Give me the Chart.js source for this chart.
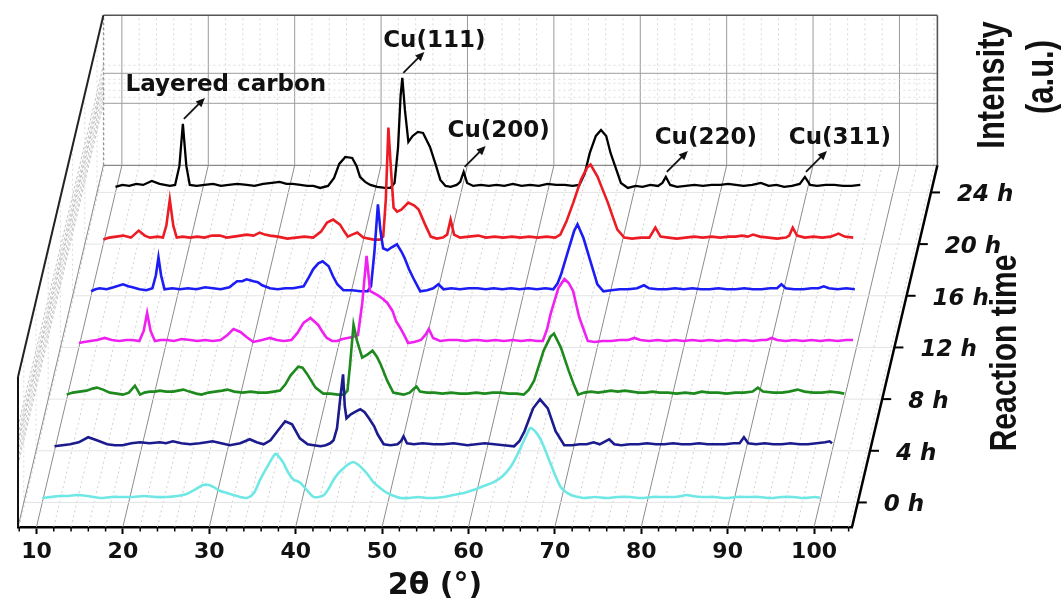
<!DOCTYPE html>
<html><head><meta charset="utf-8">
<script src="https://cdn.jsdelivr.net/npm/chart.js@4.4.1/dist/chart.umd.min.js"></script>
<style>html,body{margin:0;padding:0;background:#fff;}#wrap{width:1064px;height:604px;}</style>
</head><body><div id="wrap"><canvas id="c" width="1064" height="604"></canvas></div>
<script>
// ---------------- data ----------------
const timeLabels = ['0 h','4 h','8 h','12 h','16 h','20 h','24 h'];
const xTickStep = 10;

const xrd0h = [[10,0],[11,1],[12,2],[13,2],[14.1,3],[15.2,2],[16.7,0],[18,1],[19.3,1],[20.5,1],[21.8,2],[23.1,1],[24.4,1],[25.6,2],[26.7,4],[27.6,8],[28.6,13],[29.3,13],[29.8,11],[30.6,7],[31.4,5],[32.1,3],[32.9,1],[33.7,0],[34.5,5],[35.2,18],[36.1,32],[37.0,44],[37.5,40],[37.9,35],[38.5,25],[39.1,18],[39.5,17],[39.9,15],[40.6,8],[41.4,1],[42.0,1],[42.6,3],[43.2,10],[43.7,18],[44.3,25],[44.9,30],[45.5,34],[46.0,36],[46.6,33],[47.2,28],[47.8,22],[48.3,16],[49.1,10],[49.9,5],[50.7,2],[51.5,0],[52.5,0],[53.5,1],[54.4,0],[55.3,0],[56.5,1],[57.6,3],[58.8,5],[59.9,8],[61.1,12],[62.3,16],[63.3,22],[64.2,31],[64.8,40],[65.4,51],[66.0,62],[66.5,70],[67.1,66],[67.7,58],[68.3,46],[68.8,35],[69.4,22],[70.0,11],[70.6,6],[71.2,3],[72.0,1],[72.7,0],[74,1],[75.3,0],[76.6,1],[78,1],[79.3,0],[80.6,1],[81.9,1],[83.2,1],[84.0,2],[84.6,3],[85.2,2],[86.5,1],[87.8,1],[89.1,0],[90.4,1],[91.7,1],[93,1],[94.3,0],[95.6,1],[96.9,1],[98.2,0],[99.5,1],[100,0]];

const xrd4h = [[10,0],[10.9,1],[11.8,2],[12.8,4],[13.9,9],[14.9,6],[16.1,2],[17.0,1],[17.9,1],[18.9,3],[19.9,4],[21.0,3],[22.2,4],[22.9,3],[23.7,5],[24.7,3],[25.7,2],[26.8,3],[27.6,4],[28.3,5],[29.3,3],[30.3,1],[31.5,3],[32.6,7],[33.4,4],[34.2,2],[35.0,6],[35.8,15],[36.7,25],[37.5,22],[38.4,8],[39.3,2],[40.0,1],[40.8,0],[41.4,1],[41.9,3],[42.3,6],[42.7,18],[43.1,50],[43.4,72],[43.6,40],[43.8,28],[44.3,32],[44.9,35],[45.4,37],[45.9,34],[46.4,28],[47.0,20],[47.4,12],[48.1,2],[48.9,1],[49.7,2],[50.1,5],[50.4,10],[50.8,3],[51.6,2],[52.6,3],[53.9,2],[55.0,2],[56.2,3],[57.0,2],[57.8,1],[58.8,2],[59.8,3],[60.9,2],[62.0,1],[63.2,0],[63.8,5],[64.4,15],[65.4,38],[66.2,47],[67.1,38],[68.0,15],[69.0,1],[69.9,1],[70.8,2],[71.6,2],[72.4,4],[73.1,2],[74.2,7],[74.8,2],[75.6,1],[76.6,2],[77.6,2],[78.6,3],[79.6,2],[80.6,2],[81.6,3],[82.6,2],[83.6,2],[84.6,3],[85.6,2],[86.6,2],[87.6,2],[88.6,3],[89.3,3],[89.8,9],[90.3,3],[91.2,2],[92.2,3],[93.2,2],[94.2,2],[95.2,3],[96.2,2],[97.2,2],[98.2,3],[99.2,4],[99.7,5],[100,3]];

const xrd8h = [[10,0],[10.7,2],[11.5,3],[12.3,4],[13.0,6],[13.5,7],[14.2,5],[15.0,2],[15.8,1],[16.5,0],[17.2,2],[17.9,9],[18.5,0],[19.0,2],[19.6,3],[20.2,3],[20.8,4],[21.5,3],[22.3,3],[22.9,4],[23.5,5],[24.2,3],[25.0,1],[25.6,0],[26.4,2],[27.2,3],[28.0,4],[28.6,5],[29.4,3],[30.4,2],[31.3,3],[32.2,2],[33.2,2],[34.0,3],[34.7,4],[35.3,10],[35.9,19],[36.8,28],[37.3,27],[37.8,21],[38.3,14],[38.8,7],[39.7,1],[40.5,1],[41.4,0],[42.1,0],[42.5,4],[42.8,30],[43.2,70],[43.4,62],[43.6,54],[44.2,37],[44.8,40],[45.4,44],[45.9,38],[46.3,31],[47.1,14],[47.8,2],[48.4,1],[49.0,0],[49.7,2],[50.2,6],[50.5,8],[50.9,3],[51.7,2],[52.5,2],[53.5,1],[54.5,2],[55.5,1],[56.4,1],[57.4,2],[58.4,1],[59.3,2],[60.2,2],[61.2,1],[62.1,1],[62.9,0],[63.5,5],[64.1,14],[65.2,44],[66.0,58],[66.4,61],[67.2,47],[68.1,24],[68.7,10],[69.2,0],[69.9,2],[70.7,3],[71.5,2],[72.3,3],[73.0,4],[73.8,3],[74.6,4],[75.4,3],[76.2,2],[77.0,2],[77.8,3],[78.6,2],[79.6,2],[80.6,1],[81.6,2],[82.6,1],[83.5,3],[84.4,2],[85.4,2],[86.4,1],[87.4,2],[88.4,2],[89.4,3],[90.0,7],[90.6,3],[91.8,2],[92.8,2],[93.6,3],[94.6,5],[95.4,3],[96.4,2],[97.4,2],[98.4,3],[99.4,2],[100,1]];

const xrd12h = [[10,0],[10.6,1],[11.3,2],[12.1,3],[13.0,5],[13.8,3],[14.7,2],[15.5,3],[16.2,3],[17.0,2],[17.5,12],[17.9,30],[18.3,12],[18.8,2],[19.5,3],[20.2,3],[21.0,2],[21.9,4],[22.9,3],[23.7,2],[24.6,3],[25.5,2],[26.4,3],[27.2,8],[27.9,14],[28.7,11],[29.4,6],[30.2,1],[31.2,3],[32.1,5],[32.9,3],[33.7,2],[34.6,3],[35.3,10],[36.0,20],[36.8,25],[37.7,18],[38.2,11],[38.7,5],[39.3,2],[39.9,2],[40.5,4],[41.1,5],[41.7,6],[42.3,8],[42.8,40],[43.3,87],[43.5,70],[43.7,52],[44.3,49],[44.7,47],[45.2,44],[45.7,40],[46.3,32],[46.7,22],[47.2,15],[47.7,7],[48.1,0],[48.8,1],[49.6,3],[50.1,8],[50.5,14],[51.0,5],[51.8,2],[52.8,3],[53.8,3],[54.8,2],[55.6,3],[56.2,3],[57.2,2],[58.2,3],[59.2,2],[60.2,3],[61.2,2],[62.2,3],[63.0,2],[63.7,2],[64.2,14],[64.6,29],[65.5,55],[66.2,64],[66.7,60],[67.2,52],[67.9,26],[68.4,14],[68.9,2],[69.7,1],[70.6,2],[71.6,2],[72.6,3],[73.6,3],[74.3,5],[75.0,3],[76.0,2],[77.0,3],[78.0,2],[79.0,3],[80.0,2],[81.0,3],[82.0,2],[83.0,3],[84.0,2],[85.0,3],[86.0,2],[87.0,3],[88.0,2],[89.0,3],[89.6,3],[90.2,5],[90.8,3],[91.8,2],[92.8,3],[93.8,2],[94.8,3],[95.8,2],[96.8,3],[97.8,2],[98.8,3],[99.6,3],[100,5]];

const xrd16h = [[10,0],[10.5,2],[11.0,3],[11.8,2],[12.6,4],[13.7,7],[14.3,5],[14.8,4],[15.6,2],[16.4,1],[17.1,3],[17.5,16],[17.8,34],[18.1,16],[18.5,2],[19.4,3],[20.3,2],[21.2,3],[22.2,2],[23.2,4],[24.1,3],[25.0,2],[26.0,4],[26.9,10],[27.5,10],[28.0,12],[28.8,10],[29.3,9],[29.8,6],[30.7,3],[31.6,2],[32.5,3],[33.4,3],[34.0,4],[34.6,5],[35.2,14],[35.7,22],[36.3,28],[36.8,30],[37.5,25],[38.0,15],[38.5,7],[39.2,1],[40.2,1],[41.2,0],[42.0,0],[42.4,5],[42.8,40],[43.2,87],[43.5,60],[43.8,43],[44.3,41],[44.8,44],[45.4,47],[45.9,40],[46.3,33],[46.8,22],[47.3,13],[48.1,0],[48.9,1],[49.6,3],[50.2,7],[50.8,2],[51.7,3],[52.7,2],[53.7,3],[54.7,3],[55.7,2],[56.6,3],[57.6,2],[58.6,3],[59.6,2],[60.6,3],[61.6,2],[62.6,3],[63.5,2],[64.0,8],[64.4,17],[65.3,43],[65.9,60],[66.3,67],[67.0,53],[67.8,30],[68.6,7],[69.3,0],[70.2,1],[71.2,2],[72.2,2],[73.2,3],[74.0,6],[74.6,3],[75.6,2],[76.6,2],[77.6,3],[78.6,2],[79.6,3],[80.6,2],[81.6,2],[82.6,3],[83.6,2],[84.6,2],[85.6,3],[86.6,2],[87.6,2],[88.6,3],[89.4,3],[89.9,7],[90.4,3],[91.4,2],[92.4,2],[93.4,3],[94.2,3],[94.8,5],[95.4,3],[96.4,2],[97.4,3],[98.4,2],[99.4,2],[100,4]];

const xrd20h = [[10,0],[10.7,2],[11.5,3],[12.3,4],[13.2,2],[14.1,9],[14.8,4],[15.4,2],[16.3,3],[16.9,2],[17.3,14],[17.7,40],[18.1,14],[18.5,2],[19.2,3],[20.0,2],[20.9,3],[21.7,2],[22.6,4],[23.5,4],[24.3,2],[25.1,3],[25.9,4],[26.6,5],[27.4,4],[28.1,7],[28.7,5],[29.3,4],[30.2,3],[31.3,1],[32.3,2],[33.3,3],[34.3,2],[35.2,8],[35.9,17],[36.6,20],[37.4,15],[37.9,8],[38.3,3],[38.8,5],[39.4,7],[40.1,2],[41.3,0],[42.0,0],[42.4,3],[42.7,40],[43.0,112],[43.3,70],[43.6,32],[44.0,28],[44.5,30],[45.3,37],[46.0,34],[46.5,30],[47.2,16],[47.9,3],[48.6,1],[49.3,2],[49.8,5],[50.2,20],[50.6,5],[51.3,2],[52.3,3],[53.4,4],[54.3,2],[55.3,3],[56.3,2],[57.3,3],[58.3,2],[59.3,3],[60.3,2],[61.3,3],[62.3,2],[62.9,5],[63.6,18],[64.4,37],[65.3,60],[66.0,72],[66.4,75],[67.2,63],[67.8,50],[68.4,37],[69.0,22],[69.5,10],[70.3,2],[71.2,1],[72.2,2],[73.2,2],[73.9,12],[74.5,3],[75.4,2],[76.4,1],[77.4,2],[78.4,3],[79.4,2],[80.4,3],[81.4,2],[82.4,3],[83.2,3],[83.9,4],[84.6,3],[85.2,5],[86.0,3],[87.0,2],[88.0,1],[89.0,2],[89.4,4],[89.8,12],[90.3,4],[91.2,2],[92.2,3],[93.2,2],[94.2,3],[95.1,6],[95.8,3],[96.8,2],[97.8,3],[98.8,2],[99.5,3],[100,5]];

const xrd24h = [[10,1],[10.8,3],[11.6,2],[12.4,4],[13.2,3],[14.2,7],[15.1,4],[16.3,2],[16.9,3],[17.4,22],[17.8,64],[18.2,22],[18.6,3],[19.4,2],[20.3,3],[21.3,4],[22.2,2],[23.1,3],[24.1,4],[25.2,3],[26.1,2],[27.1,4],[28.1,5],[29.0,6],[29.8,4],[30.5,4],[31.4,3],[32.2,2],[32.9,2],[33.7,0],[34.6,2],[35.3,10],[35.9,24],[36.6,31],[37.4,30],[37.9,22],[38.3,11],[38.9,6],[39.5,3],[40.3,1],[41.2,0],[41.8,0],[42.3,5],[42.7,40],[43.0,92],[43.2,110],[43.5,78],[43.9,46],[44.4,52],[45.0,56],[45.6,55],[46.4,41],[47.0,25],[47.6,8],[48.2,2],[48.8,1],[49.5,3],[49.9,6],[50.3,16],[50.7,5],[51.4,2],[52.3,3],[53.2,2],[54.1,3],[55.0,2],[56.0,4],[57.0,2],[58.0,3],[59.0,2],[60.0,4],[61.0,3],[62.0,3],[62.9,2],[63.7,3],[64.3,14],[64.9,35],[65.6,52],[66.2,58],[66.8,52],[67.3,35],[67.9,20],[68.5,5],[69.3,0],[70.2,2],[71.0,1],[71.9,3],[72.8,2],[73.3,5],[73.7,11],[74.2,3],[75.0,1],[76.0,2],[77.0,3],[78.0,2],[79.0,3],[80.0,3],[80.9,4],[81.8,3],[82.7,2],[83.7,3],[84.7,5],[85.6,2],[86.5,3],[87.4,1],[88.3,2],[89.2,4],[89.8,11],[90.4,3],[91.2,2],[92.2,3],[93.2,3],[94.2,2],[95.2,2],[96.2,3],[97.2,1],[98.2,3],[99.2,2],[100,0]];

const seriesData = [xrd0h, xrd4h, xrd8h, xrd12h, xrd16h, xrd20h, xrd24h];

// peak annotations on the 24 h pattern
const peakLabels = ['Layered carbon','Cu(111)','Cu(200)','Cu(220)','Cu(311)'];
const peakTheta  = [17.8, 43.2, 50.3, 73.7, 89.8];
const peakInt    = [64, 110, 16, 11, 11];

// ---------------- styles / geometry ----------------
const seriesColors = ['#6fe8e5','#1b1b8e','#1e8a1e','#f020f0','#1c1cf4','#ec1c24','#000000'];
const G = {thMin:7.86, thMax:104.39, dTh:1.412, dI:51.67, d0:0.475, back:7.0, H:150, bg:4.5};
const wallMajor = [62, 92];
const wallMinor = [68, 75, 82, 86, 100];
const labelDx = [43, 32, 35, 40, 35];
const labelDy = [-39, -37, -41, -39, -39];

function depthOf(k){ return G.d0 + k; }
function P(chart, th, I, d){
  const xs = chart.scales.x, ys = chart.scales.y;
  return [xs.getPixelForValue(th + d*G.dTh), ys.getPixelForValue(I + d*G.dI)];
}

const datasets = seriesData.map((arr, k) => ({
  label: timeLabels[k],
  data: arr.map(([t, i]) => ({x: t + depthOf(k)*G.dTh, y: i + G.bg + depthOf(k)*G.dI})),
  borderColor: seriesColors[k],
  borderWidth: k === 6 ? 2.3 : 2.6,
  pointRadius: 0,
  tension: k === 0 ? 0.3 : 0,
  fill: false,
  clip: false
}));

const deco = {
  id: 'deco',
  beforeDatasetsDraw(chart){
    const ctx = chart.ctx, B = G.back, H = G.H;
    const line = (a, b, color, w, dash) => {
      ctx.save(); ctx.strokeStyle = color; ctx.lineWidth = w; ctx.setLineDash(dash || []);
      ctx.beginPath(); ctx.moveTo(a[0], a[1]); ctx.lineTo(b[0], b[1]); ctx.stroke(); ctx.restore();
    };
    // floor grid
    for (let t = 8; t <= 104; t += 2) {
      const major = t % xTickStep === 0;
      line(P(chart,t,0,0), P(chart,t,0,B), major ? '#8c8c8c' : '#c4c4c4', major ? 1 : 0.8, major ? [] : [2,3]);
    }
    for (let k = 0; k < timeLabels.length; k++) {
      line(P(chart,G.thMin,0,depthOf(k)), P(chart,G.thMax,0,depthOf(k)), '#e4e4e4', 1);
    }
    // back wall grid
    for (let t = 8; t <= 104; t += 2) {
      const major = t % xTickStep === 0;
      line(P(chart,t,0,B), P(chart,t,H,B), major ? '#9a9a9a' : '#cfcfcf', major ? 1 : 0.8, major ? [] : [2,3]);
    }
    wallMinor.forEach(I => line(P(chart,G.thMin,I,B), P(chart,G.thMax,I,B), '#d6d6d6', 0.8, [2,3]));
    wallMajor.forEach(I => line(P(chart,G.thMin,I,B), P(chart,G.thMax,I,B), '#9c9c9c', 1));
    line(P(chart,G.thMin,0,B), P(chart,G.thMax,0,B), '#8a8a8a', 1.2);
    line(P(chart,G.thMin,H,B), P(chart,G.thMax,H,B), '#555', 1.6);
    line(P(chart,G.thMax,0,B), P(chart,G.thMax,H,B), '#555', 1.6);
    line(P(chart,G.thMin,0,B), P(chart,G.thMin,H,B), '#8a8a8a', 1, [3,2]);
    // left wall
    wallMinor.concat(wallMajor).forEach(I => line(P(chart,G.thMin,I,0), P(chart,G.thMin,I,B), '#b4b4b4', 0.8, [3,2]));
    for (let k = 0; k < timeLabels.length; k++) {
      line(P(chart,G.thMin,0,depthOf(k)), P(chart,G.thMin,H,depthOf(k)), '#d2d2d2', 0.8, [2,3]);
    }
    line(P(chart,G.thMin,0,0), P(chart,G.thMin,0,B), '#8a8a8a', 1);
    line(P(chart,G.thMin,0,0), P(chart,G.thMin,H,0), '#111', 2);
    line(P(chart,G.thMin,H,0), P(chart,G.thMin,H,B), '#222', 2);
  },
  afterDatasetsDraw(chart){
    const ctx = chart.ctx, B = G.back;
    const line = (a, b, color, w) => {
      ctx.save(); ctx.strokeStyle = color; ctx.lineWidth = w;
      ctx.beginPath(); ctx.moveTo(a[0], a[1]); ctx.lineTo(b[0], b[1]); ctx.stroke(); ctx.restore();
    };
    // minor ticks on 2θ axis
    for (let t = 8; t <= 104; t += 2) {
      if (t % xTickStep === 0) continue;
      const p = P(chart,t,0,0);
      line([p[0], p[1]], [p[0], p[1] + 4.5], '#000', 1.5);
    }
    // depth (reaction time) axis
    line(P(chart,G.thMax,0,0), P(chart,G.thMax,0,B), '#000', 2.5);
    ctx.save();
    ctx.font = 'italic bold 23px "DejaVu Sans"';
    ctx.fillStyle = '#111'; ctx.textAlign = 'left'; ctx.textBaseline = 'middle';
    timeLabels.forEach((lab, k) => {
      const p = P(chart,G.thMax,0,depthOf(k));
      line(p, [p[0] + 9, p[1]], '#000', 2);
      ctx.fillText(lab, p[0] + 26, p[1] + 3);
    });
    ctx.restore();
    // peak annotations
    const dBlack = depthOf(6);
    ctx.save();
    ctx.font = 'bold 23px "DejaVu Sans"';
    ctx.fillStyle = '#111'; ctx.textAlign = 'center'; ctx.textBaseline = 'middle';
    peakLabels.forEach((lab, i) => {
      const p = P(chart, peakTheta[i], peakInt[i] + G.bg, dBlack);
      const a = [p[0] + 1, p[1] - 5], b = [p[0] + 22, p[1] - 26];
      line(a, [b[0] - 3, b[1] + 3], '#111', 1.8);
      const ang = Math.atan2(b[1] - a[1], b[0] - a[0]);
      ctx.beginPath();
      ctx.moveTo(b[0], b[1]);
      ctx.lineTo(b[0] - 9*Math.cos(ang) + 4*Math.sin(ang), b[1] - 9*Math.sin(ang) - 4*Math.cos(ang));
      ctx.lineTo(b[0] - 9*Math.cos(ang) - 4*Math.sin(ang), b[1] - 9*Math.sin(ang) + 4*Math.cos(ang));
      ctx.closePath(); ctx.fill();
      ctx.fillText(lab, p[0] + labelDx[i], p[1] + labelDy[i]);
    });
    ctx.restore();
    // rotated axis titles
    const vtext = (txt, bx, cy, size) => {
      ctx.save();
      ctx.translate(bx, cy); ctx.rotate(-Math.PI/2); ctx.scale(1, 1.25);
      ctx.font = 'bold ' + size + 'px "Liberation Sans"';
      ctx.fillStyle = '#111'; ctx.textAlign = 'center'; ctx.textBaseline = 'alphabetic';
      ctx.fillText(txt, 0, 0);
      ctx.restore();
    };
    vtext('Intensity', 1004, 85, 31);
    vtext('(a.u.)', 1053, 77, 31);
    vtext('Reaction time', 1016, 353, 30);
  }
};

new Chart(document.getElementById('c'), {
  type: 'line',
  data: {datasets},
  plugins: [deco],
  options: {
    responsive: false, animation: false, devicePixelRatio: 1,
    layout: {padding: {left: 18, right: 212, top: 16, bottom: 0}},
    plugins: {legend: {display: false}, tooltip: {enabled: false}},
    scales: {
      x: {
        type: 'linear', position: 'bottom', min: G.thMin, max: G.thMax,
        afterFit: s => { s.height = 77; },
        ticks: {stepSize: xTickStep, includeBounds: false, autoSkip: false, maxRotation: 0, padding: 5,
          color: '#111', font: {family: 'DejaVu Sans', weight: 'bold', size: 22},
          callback: v => Math.round(v)},
        grid: {drawOnChartArea: false, drawTicks: true, tickLength: 7, tickColor: '#000', tickWidth: 2},
        border: {display: true, color: '#000', width: 2.5},
        title: {display: true, text: '2θ (°)', color: '#111',
          font: {family: 'DejaVu Sans', weight: 'bold', size: 30}, padding: {top: 0, bottom: 0}}
      },
      y: {type: 'linear', display: false, min: 0, max: 511}
    }
  }
});
</script>
</body></html>
